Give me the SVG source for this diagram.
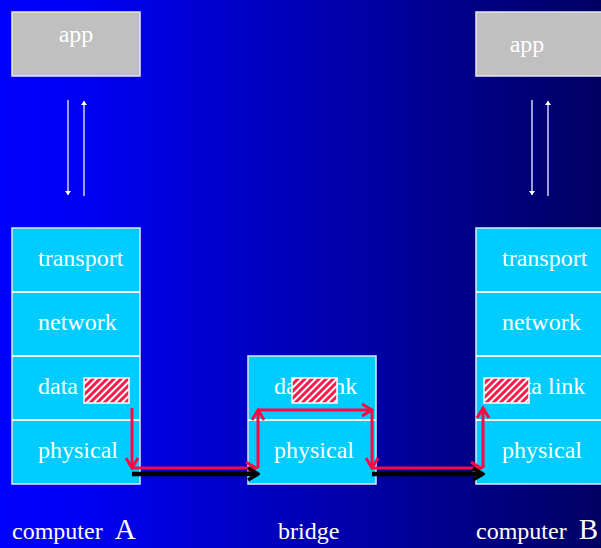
<svg xmlns="http://www.w3.org/2000/svg" width="601" height="548" viewBox="0 0 601 548">
<defs>
  <linearGradient id="bg" x1="0" y1="0" x2="1" y2="0">
    <stop offset="0" stop-color="#0000ff"/>
    <stop offset="0.15" stop-color="#0000f2"/>
    <stop offset="1" stop-color="#000062"/>
  </linearGradient>
  <pattern id="hatch" patternUnits="userSpaceOnUse" width="5" height="5" patternTransform="rotate(45)">
    <rect width="5" height="5" fill="#ff1a4a"/>
    <rect width="2" height="5" fill="#ffffff"/>
  </pattern>
  <marker id="ar" markerUnits="userSpaceOnUse" viewBox="-12 -8 14 16" markerWidth="14" markerHeight="16" refX="0" refY="0" orient="auto">
    <path d="M-10,-6 L0,0 L-10,6" fill="none" stroke="#ff0844" stroke-width="3"/>
  </marker>
  <marker id="ab" markerUnits="userSpaceOnUse" viewBox="-12 -8 14 16" markerWidth="14" markerHeight="16" refX="0" refY="0" orient="auto">
    <path d="M-10,-6 L0,0 L-10,6" fill="none" stroke="#000000" stroke-width="3.5"/>
  </marker>
  <marker id="aw" markerUnits="userSpaceOnUse" viewBox="-5 -4 6 8" markerWidth="6" markerHeight="8" refX="0" refY="0" orient="auto">
    <path d="M-4,-3 L0,0 L-4,3 Z" fill="#ffffff"/>
  </marker>
</defs>
<style>
  .t { font-family: "Liberation Serif", "Times New Roman", serif; font-size: 24px; fill: #ffffff; }
  .big { font-size: 29px; }
  .app { fill: #c0c0c0; stroke: #e6e6ee; stroke-width: 1.5; }
  .layer { fill: #00ccff; stroke: #e0e8ff; stroke-width: 1.5; }
  .sep { stroke: #f0f4ff; stroke-width: 2; }
  .hb { fill: url(#hatch); stroke: #ffffff; stroke-width: 1.5; }
  .wl { stroke: #d0d0ff; stroke-width: 1.5; fill: none; marker-end: url(#aw); }
  .red { stroke: #ff0844; stroke-width: 3; fill: none; marker-end: url(#ar); }
  .blk { stroke: #000000; stroke-width: 4.5; fill: none; marker-end: url(#ab); }
</style>
<rect x="0" y="0" width="601" height="548" fill="url(#bg)"/>

<g id="appA">
  <rect class="app" x="12" y="12" width="128" height="64"/>
  <text class="t" x="76" y="42" text-anchor="middle">app</text>
</g>
<g id="appB">
  <rect class="app" x="476" y="12" width="128" height="64"/>
  <text class="t" x="527" y="52" text-anchor="middle">app</text>
</g>

<g id="stackA">
  <rect class="layer" x="12" y="228" width="128" height="256"/>
  <line class="sep" x1="12" y1="292" x2="140" y2="292"/>
  <line class="sep" x1="12" y1="356" x2="140" y2="356"/>
  <line class="sep" x1="12" y1="420" x2="140" y2="420"/>
  <text class="t" x="38" y="266">transport</text>
  <text class="t" x="38" y="330">network</text>
  <text class="t" x="38" y="394">data</text>
  <text class="t" x="38" y="458">physical</text>
  <rect class="hb" x="84" y="378" width="45" height="25"/>
</g>

<g id="bridge">
  <rect class="layer" x="248" y="356" width="128" height="128"/>
  <line class="sep" x1="248" y1="420" x2="376" y2="420"/>
  <text class="t" x="274" y="394">data link</text>
  <text class="t" x="274" y="458">physical</text>
  <rect class="hb" x="292" y="378" width="45" height="25"/>
</g>

<g id="stackB">
  <rect class="layer" x="476" y="228" width="128" height="256"/>
  <line class="sep" x1="476" y1="292" x2="604" y2="292"/>
  <line class="sep" x1="476" y1="356" x2="604" y2="356"/>
  <line class="sep" x1="476" y1="420" x2="604" y2="420"/>
  <text class="t" x="502" y="266">transport</text>
  <text class="t" x="502" y="330">network</text>
  <text class="t" x="502" y="394">data link</text>
  <text class="t" x="502" y="458">physical</text>
  <rect class="hb" x="484" y="378" width="45" height="25"/>
</g>

<g id="connectors">
  <line class="wl" x1="68" y1="100" x2="68" y2="195"/>
  <line class="wl" x1="84" y1="196" x2="84" y2="101"/>
  <line class="wl" x1="532" y1="100" x2="532" y2="195"/>
  <line class="wl" x1="548" y1="196" x2="548" y2="101"/>

  <line class="red" x1="132" y1="408" x2="132" y2="468"/>
  <line class="red" x1="132" y1="468" x2="256" y2="468"/>
  <line class="blk" x1="132" y1="474" x2="258" y2="474"/>
  <line class="red" x1="258" y1="468" x2="258" y2="410"/>
  <line class="red" x1="258" y1="410" x2="372" y2="410"/>
  <line class="red" x1="372" y1="410" x2="372" y2="468"/>
  <line class="red" x1="372" y1="468" x2="481" y2="468"/>
  <line class="blk" x1="372" y1="474" x2="483" y2="474"/>
  <line class="red" x1="483" y1="468" x2="483" y2="408"/>
</g>

<g id="labels">
  <text class="t" x="12" y="539">computer <tspan class="big" dx="6">A</tspan></text>
  <text class="t" x="278" y="539">bridge</text>
  <text class="t" x="476" y="539">computer <tspan class="big" dx="6">B</tspan></text>
</g>
</svg>
